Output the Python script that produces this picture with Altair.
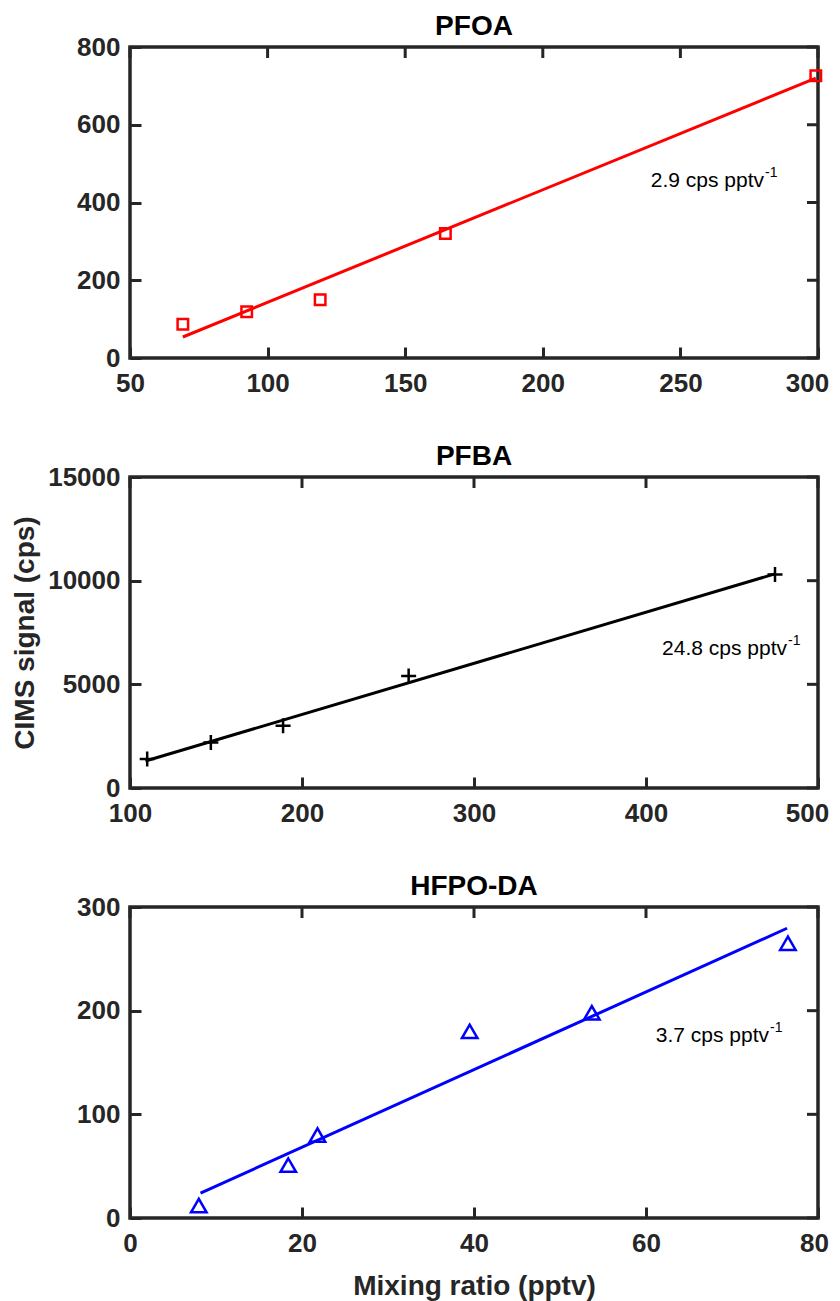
import altair as alt
import pandas as pd

# ---------------- data ----------------
# PFOA (red squares)
pfoa_x = [69.2, 92.4, 119.1, 164.6, 299.2]
pfoa_y = [87, 119, 150, 320, 726]
pfoa_fit_x = [69.2, 299.2]
pfoa_fit_y = [54, 720]
pfoa_label = "2.9 cps pptv"

# PFBA (black crosses)
pfba_x = [110, 147, 189, 262, 475]
pfba_y = [1400, 2200, 3000, 5400, 10300]
pfba_fit_x = [109, 475]
pfba_fit_y = [1300, 10330]
pfba_label = "24.8 cps pptv"

# HFPO-DA (blue triangles)
hfpo_x = [8.0, 18.4, 21.8, 39.5, 53.7, 76.5]
hfpo_y = [12, 51, 80, 180, 198, 265]
hfpo_fit_x = [8.2, 76.4]
hfpo_fit_y = [24, 279.5]
hfpo_label = "3.7 cps pptv"

# tick values
pfoa_xticks = [50, 100, 150, 200, 250, 300]
pfoa_yticks = [0, 200, 400, 600, 800]
pfba_xticks = [100, 200, 300, 400, 500]
pfba_yticks = [0, 5000, 10000, 15000]
hfpo_xticks = [0, 20, 40, 60, 80]
hfpo_yticks = [0, 100, 200, 300]

# annotation anchor (end of main text) in data coordinates
pfoa_ann = (280.4, 441)
pfba_ann = (482, 6415)
hfpo_ann = (74.3, 170)

FONT = "Liberation Sans"
AX = "#262626"
W, H = 688, 311
TICK = 11

CROSS = "M-1,0L1,0M0,-1L0,1"


def make_panel(title, xs, ys, fx, fy, color, shape, size, xdom, xticks,
               ydom, yticks, ann, label, last_shift, ytitle=None, xtitle=None):
    pts = pd.DataFrame({"x": xs, "y": ys})
    fit = pd.DataFrame({"x": fx, "y": fy})
    txt = pd.DataFrame({"x": [ann[0]], "y": [ann[1]], "t": [label], "s": ["-1"]})
    ttl = pd.DataFrame({"t": [title]})
    xt = pd.DataFrame({"x": xticks})
    yt = pd.DataFrame({"y": yticks})

    xs_ = alt.Scale(domain=xdom, nice=False, zero=False)
    ys_ = alt.Scale(domain=ydom, nice=False, zero=False)

    common = dict(grid=False, domain=False, ticks=True, tickSize=TICK,
                  tickWidth=3, tickColor=AX, offset=-TICK, labelFlush=False)

    # keep the right-most x label inside the page width
    xaxis = alt.Axis(orient="bottom", values=xticks, format="d",
                     labelOffset=alt.ExprRef(
                         expr=f"datum.value == {xticks[-1]} ? {last_shift} : 0"),
                     labelPadding=12, labelFontSize=26, labelFontWeight="bold",
                     labelColor=AX, labelFont=FONT, title=xtitle,
                     titleFont=FONT, titleFontSize=28, titleFontWeight="bold",
                     titleColor=AX, titlePadding=16, **common)
    yaxis = alt.Axis(orient="left", values=yticks, format="d",
                     labelPadding=10, labelFontSize=26, labelFontWeight="bold",
                     labelColor=AX, labelFont=FONT, title=ytitle,
                     titleFont=FONT, titleFontSize=28, titleFontWeight="bold",
                     titleColor=AX, titlePadding=8, **common)

    X = lambda f: alt.X(f, scale=xs_, axis=xaxis)
    Y = lambda f: alt.Y(f, scale=ys_, axis=yaxis)

    points = alt.Chart(pts).mark_point(
        shape=shape, filled=False, size=size, strokeWidth=2.5, color=color, opacity=1
    ).encode(x=X("x:Q"), y=Y("y:Q"))
    line = alt.Chart(fit).mark_line(color=color, strokeWidth=3).encode(
        x=X("x:Q"), y=Y("y:Q"))
    # mirrored inward ticks on the top and right frame edges
    top_ticks = alt.Chart(xt).mark_rule(color=AX, strokeWidth=3).encode(
        x=X("x:Q"), y=alt.value(0), y2=alt.value(TICK))
    right_ticks = alt.Chart(yt).mark_rule(color=AX, strokeWidth=3).encode(
        y=Y("y:Q"), x=alt.value(W), x2=alt.value(W - TICK))
    main_txt = alt.Chart(txt).mark_text(
        align="right", baseline="alphabetic", font=FONT, fontSize=21, color="black"
    ).encode(x=X("x:Q"), y=Y("y:Q"), text="t:N")
    sup_txt = alt.Chart(txt).mark_text(
        align="left", baseline="alphabetic", font=FONT, fontSize=14, color="black", dy=-10, dx=1
    ).encode(x=X("x:Q"), y=Y("y:Q"), text="s:N")
    # panel title, placed just above the frame
    title_txt = alt.Chart(ttl).mark_text(
        align="center", baseline="alphabetic", font=FONT, fontSize=28,
        fontWeight="bold", color="black"
    ).encode(x=alt.value(W / 2), y=alt.value(-12), text="t:N")

    return alt.layer(points, line, top_ticks, right_ticks, main_txt, sup_txt,
                     title_txt).properties(width=W, height=H)


p1 = make_panel("PFOA", pfoa_x, pfoa_y, pfoa_fit_x, pfoa_fit_y, "#FF0000", "square", 110,
                [50, 300], pfoa_xticks, [0, 800], pfoa_yticks, pfoa_ann, pfoa_label, -11)
p2 = make_panel("PFBA", pfba_x, pfba_y, pfba_fit_x, pfba_fit_y, "#000000", CROSS, 225,
                [100, 500], pfba_xticks, [0, 15000], pfba_yticks, pfba_ann, pfba_label, -11,
                ytitle="CIMS signal (cps)")
p3 = make_panel("HFPO-DA", hfpo_x, hfpo_y, hfpo_fit_x, hfpo_fit_y, "#0000FF", "triangle-up", 240,
                [0, 80], hfpo_xticks, [0, 300], hfpo_yticks, hfpo_ann, hfpo_label, -4,
                xtitle="Mixing ratio (pptv)")

chart = alt.vconcat(p1, p2, p3, spacing=43).properties(
    padding={"left": 1, "top": 3, "right": 0, "bottom": 0}
).configure_view(stroke=AX, strokeWidth=3.5)

chart.save("out.html", embed_options={"renderer": "svg", "actions": False})
